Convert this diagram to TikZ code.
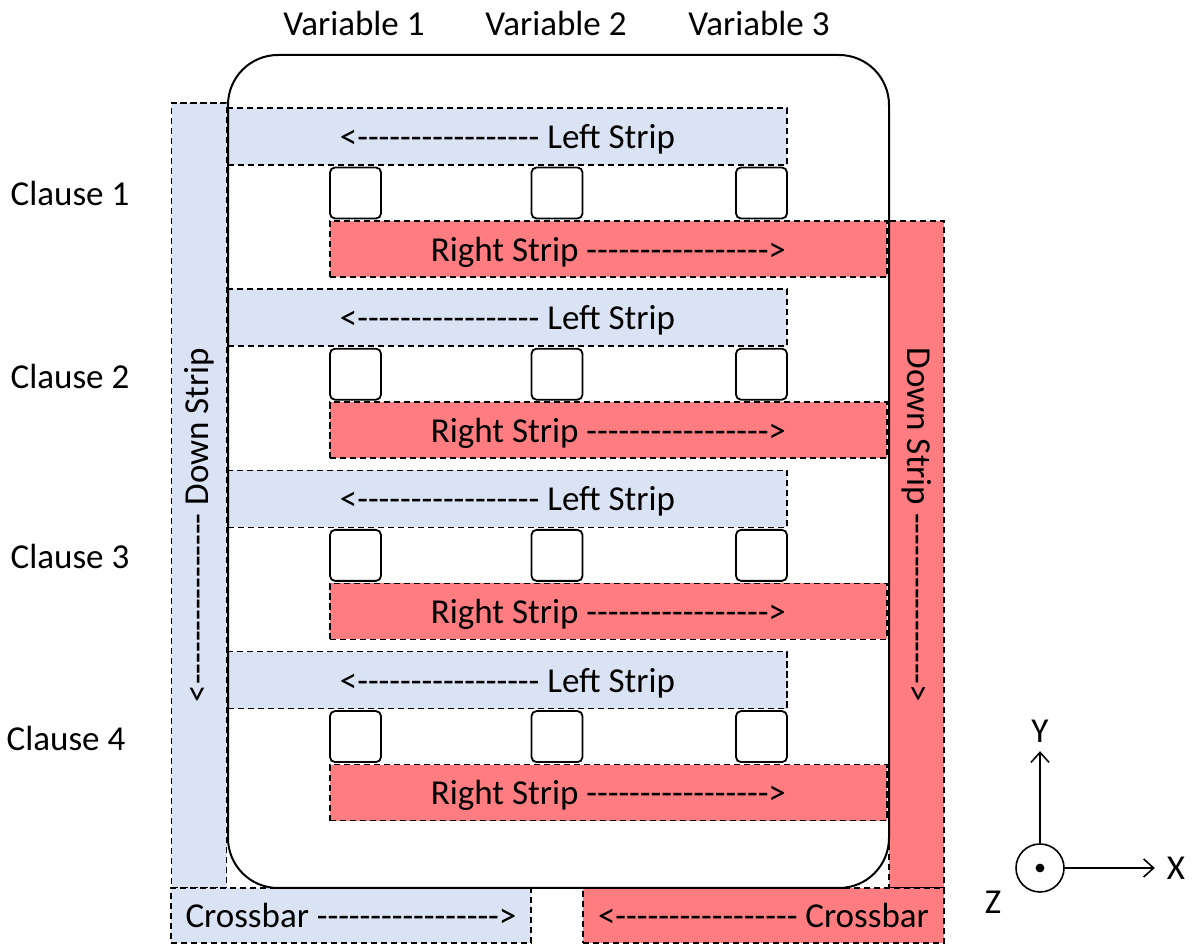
\documentclass[tikz,border=0pt]{standalone}
\usepackage{fontspec}
\setmainfont{Carlito}[Ligatures=TeXOff]
\usepackage{tikz}
\usetikzlibrary{arrows.meta,positioning}
\definecolor{stripblue}{HTML}{DAE3F3}
\definecolor{stripred}{HTML}{FF7C80}

\begin{document}
\begin{tikzpicture}[
  x=0.5pt, y=-0.5pt,
  font=\fontsize{17.5}{21}\selectfont,
  strip/.style ={draw,dash pattern=on 3.2pt off 1.8pt,line width=0.75pt,inner sep=0pt,text depth=0pt},
  lstrip/.style={strip,fill=stripblue,minimum width=279.5pt,minimum height=28.5pt},
  rstrip/.style={strip,fill=stripred,minimum width=278.5pt,minimum height=28pt},
  cell/.style  ={draw,line width=0.9pt,rounded corners=2.5pt,minimum size=25.5pt,inner sep=0pt},
  lbl/.style   ={inner sep=1pt},
  >={Straight Barb[length=5pt,width=9pt]}]
\useasboundingbox (0,0) rectangle (1196,945);

% ---------- Down strips and crossbars ----------
\node[strip,fill=stripblue,minimum width=27.5pt,minimum height=392.5pt] (dl) at (199,495.5) {};
\node[rotate=90] (dlt) at (199,525) {<---------------- Down Strip};
\node[strip,fill=stripred,minimum width=27.5pt,minimum height=333.5pt] (dr) at (916.5,554.5) {};
\node[rotate=-90] (drt) at (916.5,525) {Down Strip ---------------->};
\node[strip,fill=stripblue,minimum width=180pt,minimum height=27.5pt] (cl) at (351,915.5) {Crossbar ----------------->};
\node[strip,fill=stripred,minimum width=180.5pt,minimum height=27.5pt] (cr) at (763.5,915.5) {<----------------- Crossbar};

% ---------- Clause 1 ----------
\node[lstrip] (l1) at (507.5,136.5) {<----------------- Left Strip};
\node[cell] (c11) at (355.5,193) {};
\node[cell] (c12) at (557,193) {};
\node[cell] (c13) at (761.5,193) {};
\node[rstrip] (r1) at (608.5,249) {Right Strip ----------------->};

% ---------- Clause 2 ----------
\node[lstrip] (l2) at (507.5,317.7) {<----------------- Left Strip};
\node[cell] (c21) at (355.5,374.2) {};
\node[cell] (c22) at (557,374.2) {};
\node[cell] (c23) at (761.5,374.2) {};
\node[rstrip] (r2) at (608.5,430.2) {Right Strip ----------------->};

% ---------- Clause 3 ----------
\node[lstrip] (l3) at (507.5,498.9) {<----------------- Left Strip};
\node[cell] (c31) at (355.5,555.4) {};
\node[cell] (c32) at (557,555.4) {};
\node[cell] (c33) at (761.5,555.4) {};
\node[rstrip] (r3) at (608.5,611.4) {Right Strip ----------------->};

% ---------- Clause 4 ----------
\node[lstrip] (l4) at (507.5,680.1) {<----------------- Left Strip};
\node[cell] (c41) at (355.5,736.6) {};
\node[cell] (c42) at (557,736.6) {};
\node[cell] (c43) at (761.5,736.6) {};
\node[rstrip] (r4) at (608.5,792.6) {Right Strip ----------------->};

% ---------- Outer frame ----------
\draw[line width=1pt,rounded corners=25pt] (228,55) rectangle (889,888);

% ---------- Labels ----------
\node[lbl] (v1) at (354,23) {Variable 1};
\node[lbl] (v2) at (556,23) {Variable 2};
\node[lbl] (v3) at (759,23) {Variable 3};
\node[lbl] (k1) at (70,193) {Clause 1};
\node[lbl] (k2) at (70,376) {Clause 2};
\node[lbl] (k3) at (70,556) {Clause 3};
\node[lbl] (k4) at (66,738) {Clause 4};

% ---------- Axes ----------
\node[draw,circle,line width=0.8pt,minimum size=24pt,inner sep=0pt] (z) at (1040,868) {};
\fill (z.center) circle (2.2pt);
\node[lbl] (ax) at (1176,868) {X};
\node[lbl] (ay) at (1040,731) {Y};
\node[lbl] (az) at (993,902) {Z};
\draw[->,line width=0.8pt] (z.east) -- ++(90,0) coordinate (xe);
\draw[->,line width=0.8pt] (z.north) -- ++(0,-92) coordinate (ye);

\end{tikzpicture}
\end{document}
